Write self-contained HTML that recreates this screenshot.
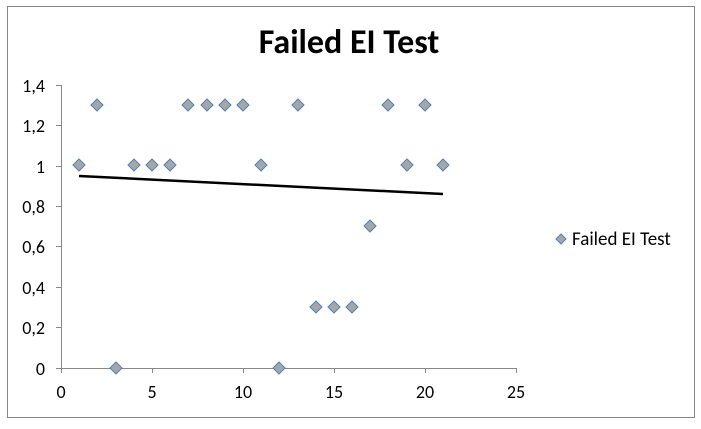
<!DOCTYPE html>
<html><head><style>body{margin:0;background:#fff}</style></head><body>
<svg width="701" height="424" xmlns="http://www.w3.org/2000/svg" font-family="Calibri, Carlito, 'Liberation Sans', sans-serif">
<rect x="7.5" y="6.5" width="687" height="411" fill="#fff" stroke="#888"/>
<text x="349" y="53" text-anchor="middle" font-size="34" font-weight="bold">Failed EI Test</text>
<g stroke="#888" stroke-width="1">
<line x1="61.5" y1="85" x2="61.5" y2="368"/>
<line x1="61" y1="368.5" x2="516" y2="368.5"/>
<line x1="56" y1="85.5" x2="61" y2="85.5"/><line x1="56" y1="125.5" x2="61" y2="125.5"/><line x1="56" y1="166.5" x2="61" y2="166.5"/><line x1="56" y1="206.5" x2="61" y2="206.5"/><line x1="56" y1="246.5" x2="61" y2="246.5"/><line x1="56" y1="287.5" x2="61" y2="287.5"/><line x1="56" y1="327.5" x2="61" y2="327.5"/><line x1="56" y1="368.5" x2="61" y2="368.5"/>
<line x1="61.5" y1="368" x2="61.5" y2="373"/><line x1="152.5" y1="368" x2="152.5" y2="373"/><line x1="243.5" y1="368" x2="243.5" y2="373"/><line x1="334.5" y1="368" x2="334.5" y2="373"/><line x1="425.5" y1="368" x2="425.5" y2="373"/><line x1="516.5" y1="368" x2="516.5" y2="373"/>
</g>
<g font-size="18" text-anchor="end" fill="#000">
<text x="45" y="92">1,4</text><text x="45" y="132">1,2</text><text x="45" y="173">1</text><text x="45" y="213">0,8</text><text x="45" y="253">0,6</text><text x="45" y="294">0,4</text><text x="45" y="334">0,2</text><text x="45" y="375">0</text>
</g>
<g font-size="18" text-anchor="middle">
<text x="61" y="398">0</text><text x="152" y="398">5</text><text x="243" y="398">10</text><text x="334" y="398">15</text><text x="425" y="398">20</text><text x="516" y="398">25</text>
</g>
<line x1="79" y1="176" x2="443" y2="194" stroke="#000" stroke-width="2.5"/>
<g fill="#a6a6a6" stroke="#4f81bd" stroke-width="1">
<path d="M79,159l6,6l-6,6l-6,-6z"/><path d="M97,99l6,6l-6,6l-6,-6z"/><path d="M116,362l6,6l-6,6l-6,-6z"/><path d="M134,159l6,6l-6,6l-6,-6z"/><path d="M152,159l6,6l-6,6l-6,-6z"/><path d="M170,159l6,6l-6,6l-6,-6z"/><path d="M188,99l6,6l-6,6l-6,-6z"/><path d="M207,99l6,6l-6,6l-6,-6z"/><path d="M225,99l6,6l-6,6l-6,-6z"/><path d="M243,99l6,6l-6,6l-6,-6z"/><path d="M261,159l6,6l-6,6l-6,-6z"/><path d="M279,362l6,6l-6,6l-6,-6z"/><path d="M298,99l6,6l-6,6l-6,-6z"/><path d="M316,301l6,6l-6,6l-6,-6z"/><path d="M334,301l6,6l-6,6l-6,-6z"/><path d="M352,301l6,6l-6,6l-6,-6z"/><path d="M370,220l6,6l-6,6l-6,-6z"/><path d="M388,99l6,6l-6,6l-6,-6z"/><path d="M407,159l6,6l-6,6l-6,-6z"/><path d="M425,99l6,6l-6,6l-6,-6z"/><path d="M443,159l6,6l-6,6l-6,-6z"/>
<path d="M561,234l5,5l-5,5l-5,-5z"/>
</g>
<text x="572" y="245" font-size="19">Failed EI Test</text>
</svg>
</body></html>
